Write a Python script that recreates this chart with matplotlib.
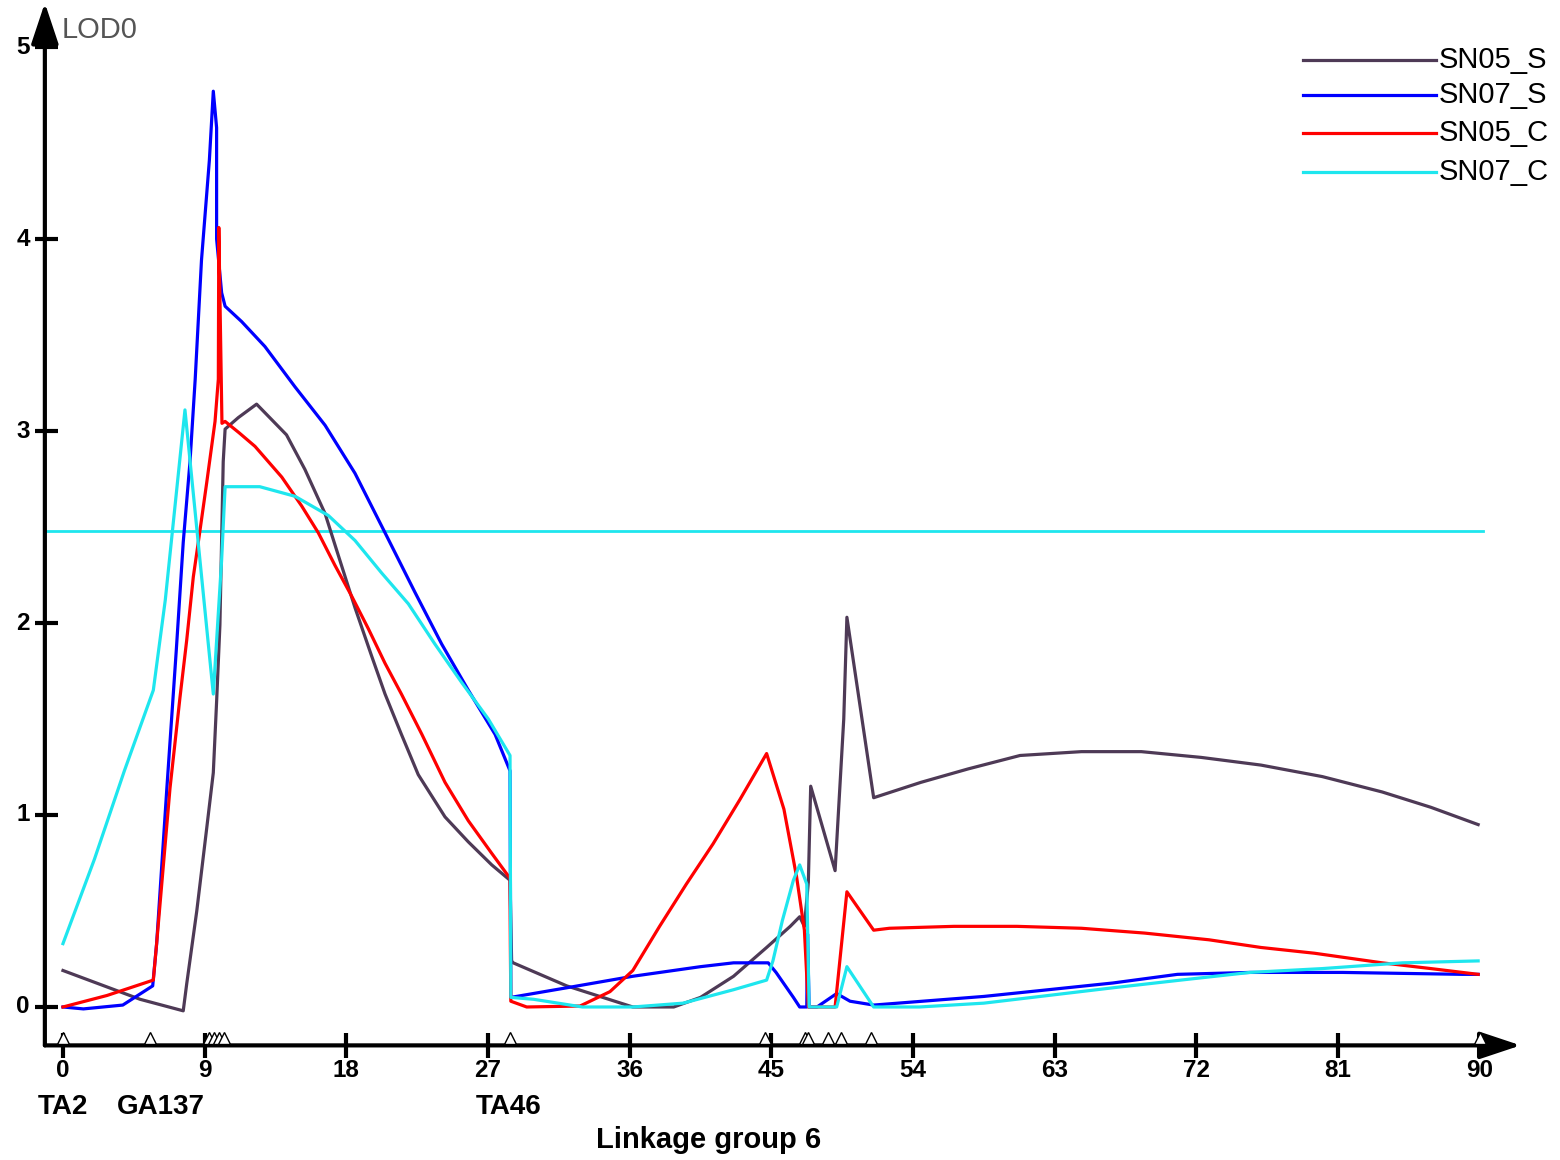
import matplotlib
matplotlib.use("Agg")
import matplotlib.pyplot as plt
import numpy as np

plt.rcParams['font.family'] = ['Liberation Sans', 'DejaVu Sans']

# LOD profiles, linkage group 6 (cM, LOD)
sn05s_x = [0, 4.9, 7.64, 7.86, 8.5, 9.13, 9.55, 9.76, 9.97, 10.18, 10.3, 11.14, 12.3, 14.2, 15.37, 16.65, 17.5,
           18.55, 19.6, 20.46, 21.5, 22.57, 24.27, 25.75, 27.24, 28.4, 28.5, 28.6, 32.0, 36.2, 38.8, 40.5,
           42.6, 44.7, 46.2, 46.8, 47.1, 47.35, 47.5, 49.05, 49.6, 49.8, 51.5, 54.5, 57.5, 60.8, 64.7,
           68.5, 72.3, 76.1, 80.0, 83.8, 86.9, 89.9]
sn05s_y = [0.19, 0.04, -0.02, 0.12, 0.50, 0.93, 1.22, 1.59, 1.99, 2.84, 3.01, 3.07, 3.14, 2.98, 2.80, 2.57, 2.35,
           2.08, 1.83, 1.63, 1.42, 1.21, 0.99, 0.86, 0.74, 0.66, 0.24, 0.23, 0.11, 0.0, 0.0, 0.05,
           0.16, 0.31, 0.42, 0.47, 0.42, 0.65, 1.15, 0.71, 1.5, 2.03, 1.09, 1.17, 1.24, 1.31, 1.33,
           1.33, 1.30, 1.26, 1.20, 1.12, 1.04, 0.95]

sn07s_x = [0, 1.3, 3.8, 5.7, 5.95, 6.6, 7.2, 7.64, 8.07, 8.4, 8.8, 9.3, 9.55, 9.76, 9.76, 10.08, 10.3, 11.35,
           12.83, 14.74, 16.65, 18.55, 20.46, 22.36, 24.06, 25.75, 27.45, 28.4, 28.45, 32.0, 36.2, 40.5,
           42.6, 44.8, 45.3, 46.4, 46.8, 47.25, 47.3, 47.4, 47.9, 49.15, 50.0, 51.5, 54.6, 58.5, 62.6,
           66.7, 70.8, 75.4, 81.3, 88.9, 89.9]
sn07s_y = [0, -0.01, 0.01, 0.11, 0.33, 1.14, 1.86, 2.42, 2.84, 3.27, 3.89, 4.41, 4.77, 4.58, 4.0, 3.72, 3.65, 3.57,
           3.44, 3.23, 3.03, 2.78, 2.47, 2.16, 1.89, 1.65, 1.42, 1.23, 0.05, 0.10, 0.16, 0.21,
           0.23, 0.23, 0.18, 0.05, 0.0, 0.0, 0.38, 0.0, 0.0, 0.07, 0.03, 0.01, 0.03, 0.055, 0.09,
           0.125, 0.17, 0.18, 0.18, 0.17, 0.17]

sn05c_x = [0, 2.8, 5.74, 5.95, 6.8, 7.43, 7.86, 8.28, 8.7, 9.13, 9.66, 9.87, 9.9, 10.1, 10.3, 11.2, 12.2, 13.9,
           15.16, 16.22, 17.28, 18.34, 19.4, 20.46, 21.5, 22.8, 24.27, 25.75, 27.24, 28.4, 28.42, 28.45,
           29.46, 32.85, 34.75, 36.2, 37.9, 39.6, 41.3, 43.0, 44.7, 45.8, 46.6, 47.1, 47.35, 49.05, 49.8,
           51.5, 52.5, 56.6, 60.6, 64.7, 68.7, 72.8, 76.1, 79.5, 83.8, 86.9, 89.9]
sn05c_y = [0, 0.06, 0.14, 0.33, 1.14, 1.61, 1.91, 2.24, 2.48, 2.73, 3.05, 3.27, 4.06, 3.04, 3.05, 2.99, 2.92, 2.76,
           2.61, 2.47, 2.30, 2.14, 1.97, 1.79, 1.63, 1.42, 1.17, 0.97, 0.80, 0.67, 0.33, 0.03,
           0.0, 0.005, 0.08, 0.19, 0.42, 0.64, 0.85, 1.08, 1.32, 1.03, 0.68, 0.40, 0.0, 0.0, 0.60,
           0.40, 0.41, 0.42, 0.42, 0.41, 0.385, 0.35, 0.31, 0.28, 0.23, 0.20, 0.17]

sn07c_x = [0, 2.0, 3.9, 5.74, 6.5, 7.75, 9.55, 10.08, 10.3, 12.5, 14.74, 16.86, 18.55, 20.25, 21.94, 23.63,
           25.33, 27.02, 28.4, 28.45, 29.9, 33.0, 36.2, 39.4, 42.6, 44.7, 45.1, 45.7, 46.4, 46.8, 47.25,
           47.4, 49.15, 49.8, 51.5, 54.4, 58.5, 62.6, 66.7, 71.0, 75.4, 80.0, 85.1, 89.9]
sn07c_y = [0.33, 0.77, 1.23, 1.65, 2.12, 3.11, 1.63, 2.33, 2.71, 2.71, 2.66, 2.56, 2.43, 2.26, 2.10, 1.89,
           1.69, 1.50, 1.31, 0.05, 0.04, 0.0, 0.0, 0.02, 0.09, 0.14, 0.24, 0.45, 0.66, 0.74, 0.64,
           0.0, 0.0, 0.21, 0.0, 0.0, 0.02, 0.06, 0.10, 0.14, 0.18, 0.20, 0.23, 0.24]

threshold = 2.48

series = ['SN05_S', 'SN07_S', 'SN05_C', 'SN07_C']
colors = ['#4e3a56', '#0000ff', '#ff0000', '#1ee6ee']

x_ticks = [0, 9, 18, 27, 36, 45, 54, 63, 72, 81, 90]
y_ticks = [0, 1, 2, 3, 4, 5]
marker_pos = [0, 5.5, 9.3, 9.6, 9.9, 10.2, 28.4, 44.6, 47.15, 47.3, 48.6, 49.4, 51.3, 90]
marker_names = ['TA2', 'GA137', 'TA46']
marker_name_x = [0, 6.2, 28.3]

fig = plt.figure(figsize=(15.6, 11.6), dpi=100)
ax = fig.add_axes([0, 0, 1, 1])
ax.set_xlim(-4.0, 95.1)
ax.set_ylim(-0.797, 5.245)
ax.axis('off')

ax0 = -1.15   # y axis position
ay0 = -0.2    # x axis position

# axes with arrows
arrow = dict(arrowstyle='-|>,head_length=0.9,head_width=0.3', lw=3, color='black',
             mutation_scale=28, shrinkA=0, shrinkB=0)
ax.annotate('', xy=(ax0, 5.23), xytext=(ax0, ay0), arrowprops=arrow)
ax.annotate('', xy=(92.6, ay0), xytext=(ax0, ay0), arrowprops=arrow)

for t in x_ticks:
    ax.plot([t, t], [-0.135, -0.265], color='black', lw=3, solid_capstyle='butt')
    ax.text(t, -0.33, str(t), ha='center', va='center', fontsize=17.5, fontweight='bold')
for t in y_ticks:
    ax.plot([-1.78, -0.32], [t, t], color='black', lw=3, solid_capstyle='butt')
    ax.text(-2.1, t, str(t), ha='right', va='center', fontsize=17.5, fontweight='bold')

ax.plot(marker_pos, np.full(len(marker_pos), -0.163), ls='none', marker='^', ms=9,
        mfc='white', mec='black', mew=1, zorder=3)

for name, xm in zip(marker_names, marker_name_x):
    ax.text(xm, -0.52, name, ha='center', va='center', fontsize=20, fontweight='bold')
ax.text(41.0, -0.695, 'Linkage group 6', ha='center', va='center', fontsize=21, fontweight='bold')
ax.text(-0.1, 5.09, 'LOD0', ha='left', va='center', fontsize=21, color='#555555')

# threshold line
ax.plot([ax0, 90.2], [threshold, threshold], color=colors[3], lw=2)

for xs, ys, c in zip([sn05s_x, sn07s_x, sn05c_x, sn07c_x],
                     [sn05s_y, sn07s_y, sn05c_y, sn07c_y], colors):
    ax.plot(xs, ys, color=c, lw=2.3)

# legend
leg_y = [4.93, 4.75, 4.55, 4.35]
for name, c, ly in zip(series, colors, leg_y):
    ax.plot([78.8, 87.2], [ly, ly], color=c, lw=2.3)
    ax.text(87.4, ly, name, ha='left', va='center', fontsize=21)

fig.savefig('out.png', dpi=100)
